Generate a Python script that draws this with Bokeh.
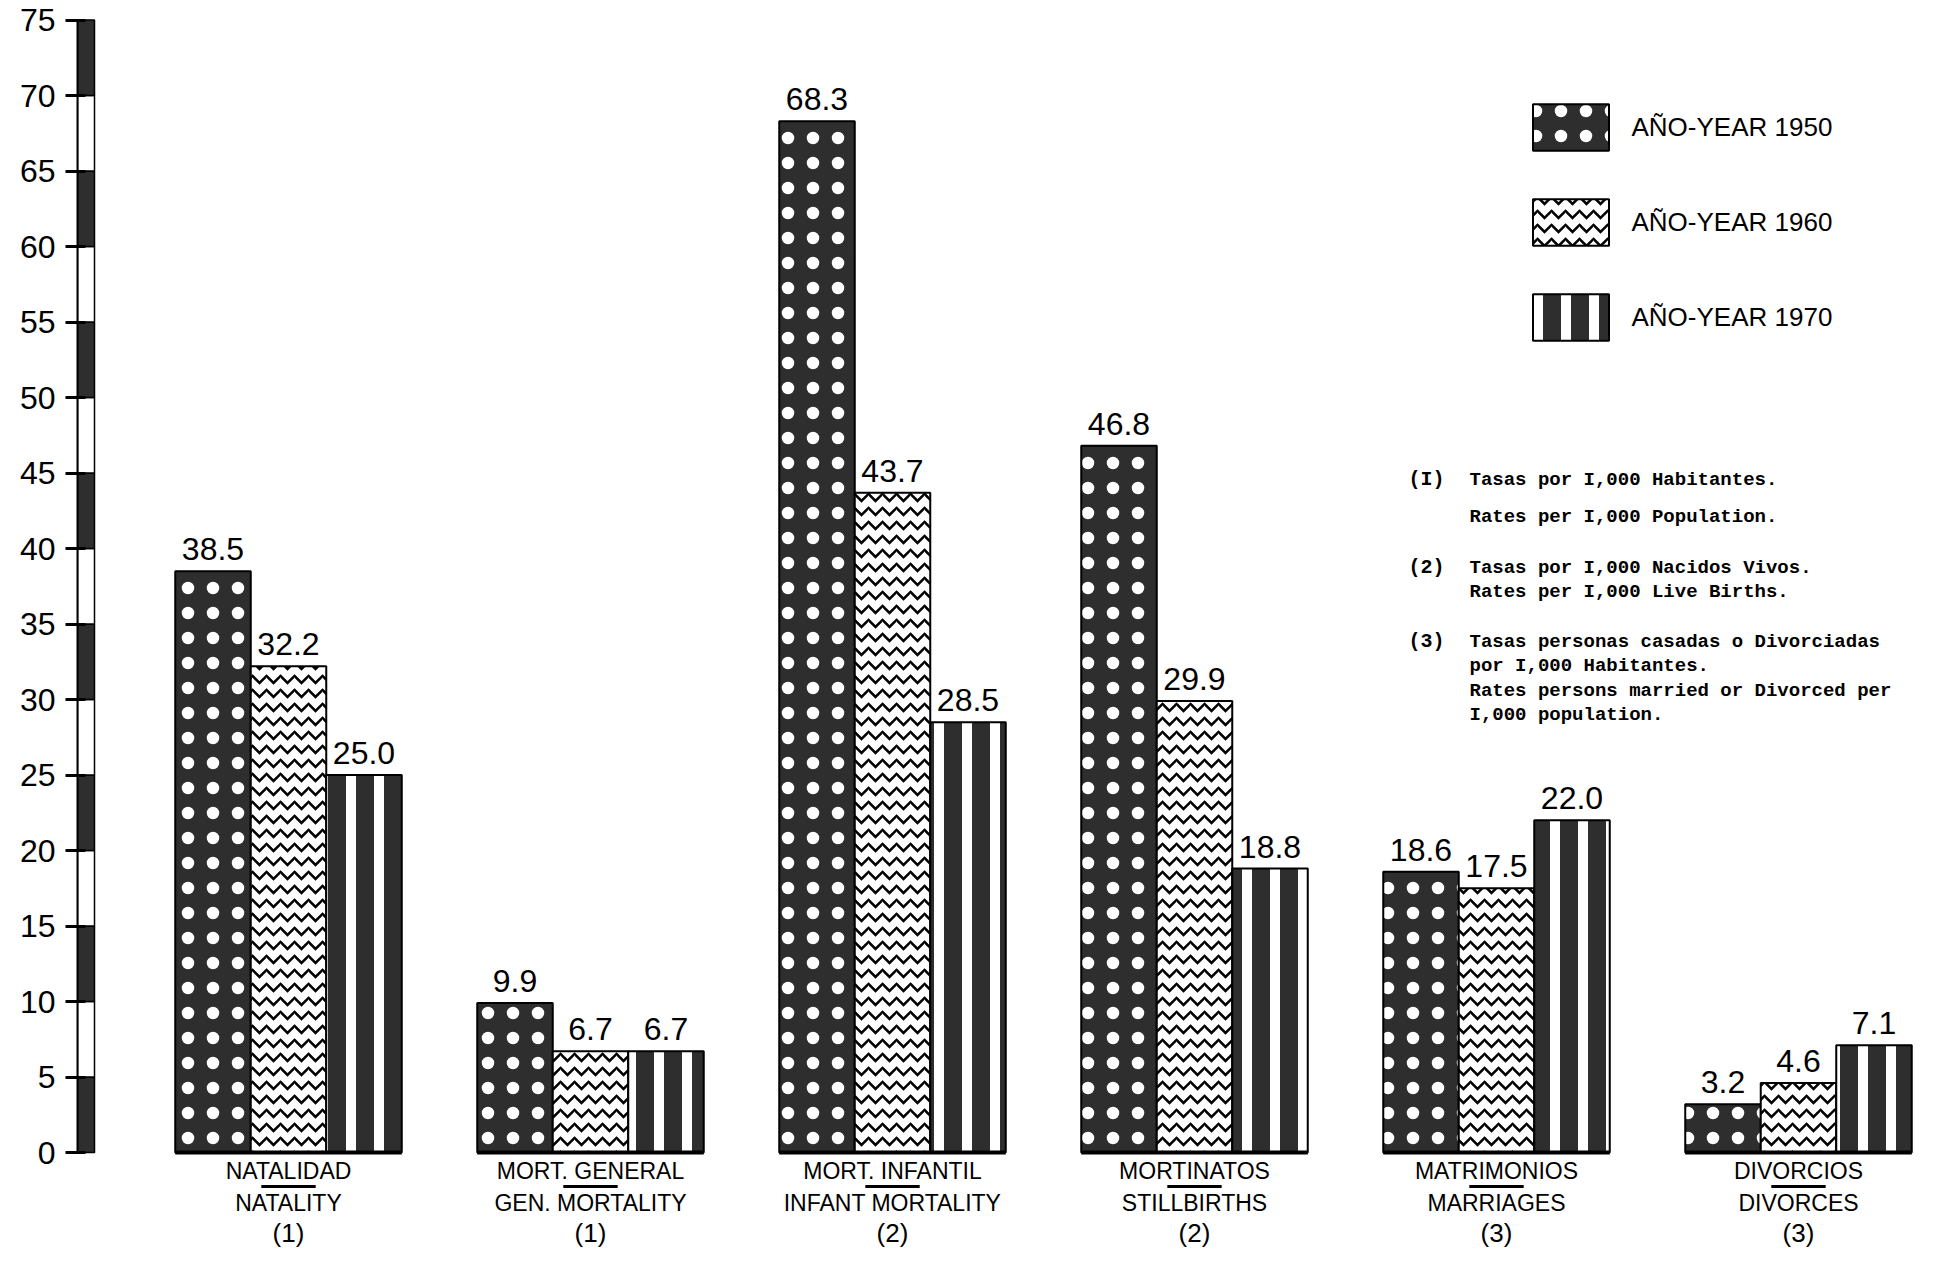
from bokeh.plotting import figure
from bokeh.models import Range1d, FixedTicker, Legend, LegendItem, Label
from bokeh.embed import file_html
from bokeh.resources import INLINE
from bokeh.core.properties import value

# ---------------- data ----------------
categories_es = ["NATALIDAD", "MORT. GENERAL", "MORT. INFANTIL", "MORTINATOS", "MATRIMONIOS", "DIVORCIOS"]
categories_en = ["NATALITY", "GEN. MORTALITY", "INFANT MORTALITY", "STILLBIRTHS", "MARRIAGES", "DIVORCES"]
category_notes = ["(1)", "(1)", "(2)", "(2)", "(3)", "(3)"]
years = ["1950", "1960", "1970"]
rates_1950 = [38.5, 9.9, 68.3, 46.8, 18.6, 3.2]
rates_1960 = [32.2, 6.7, 43.7, 29.9, 17.5, 4.6]
rates_1970 = [25.0, 6.7, 28.5, 18.8, 22.0, 7.1]
y_ticks = list(range(0, 80, 5))
footnotes = [
    ("(I)", ["Tasas por I,000 Habitantes.", "Rates per I,000 Population."]),
    ("(2)", ["Tasas por I,000 Nacidos Vivos.", "Rates per I,000 Live Births."]),
    ("(3)", ["Tasas personas casadas o Divorciadas", "por I,000 Habitantes.",
             "Rates persons married or Divorced per", "I,000 population."]),
]

# ---------------- layout ----------------
W, H = 1920, 1252
BL = 77
PPX = 302.0
X0 = (8 + BL - 296) / PPX
X1 = X0 + (W - BL) / PPX
PPY = 15.1
ZERO_PAGE = 1160
Y1 = (ZERO_PAGE - 8) / PPY
Y0 = -(8 + H - ZERO_PAGE) / PPY
FONT = "Liberation Sans"
MONO = "Liberation Mono"
DARK = "#2e2e2e"


def sx(page_x):
    return page_x - 8 - BL


def sy(page_y):
    return 8 + H - page_y


p = figure(width=W, height=H, output_backend="svg", toolbar_location=None,
           x_range=Range1d(X0, X1), y_range=Range1d(Y0, Y1),
           x_axis_location=None, y_axis_location="left",
           min_border=0, min_border_left=BL)
p.outline_line_color = None
p.xgrid.visible = False
p.ygrid.visible = False
p.background_fill_color = "white"

ax = p.yaxis[0]
ax.ticker = FixedTicker(ticks=y_ticks)
ax.bounds = (0, 75)
ax.minor_tick_line_color = None
ax.major_tick_out = 12
ax.major_tick_in = 8
ax.major_tick_line_width = 3
ax.axis_line_width = 2
ax.major_label_text_font = FONT
ax.major_label_text_font_size = "32px"
ax.major_label_text_color = "black"
ax.major_label_standoff = 10

# striped axis bar
bar_w = 17 / PPX
lows = y_ticks[:-1]
highs = y_ticks[1:]
p.quad(left=[X0] * len(lows), right=[X0 + bar_w] * len(lows), bottom=lows, top=highs,
       fill_color=[DARK if k % 2 == 0 else "white" for k in range(len(lows))],
       line_color="black", line_width=1.5)

# bars
n = len(categories_es)
bw = 0.25
styles = [
    dict(fill_color=DARK, hatch_pattern="dot", hatch_color="white", hatch_scale=25, hatch_weight=1),
    dict(fill_color="white", hatch_pattern="horizontal_wave", hatch_color="black", hatch_scale=14, hatch_weight=2.5),
    dict(fill_color=DARK, hatch_pattern="vertical_line", hatch_color="white", hatch_scale=28, hatch_weight=10),
]
series = [rates_1950, rates_1960, rates_1970]
renderers = []
for j, (vals, st) in enumerate(zip(series, styles)):
    xs = [i + (j - 1) * bw for i in range(n)]
    r = p.vbar(x=xs, top=vals, bottom=0, width=bw, line_color="black", line_width=2, **st)
    renderers.append(r)
    p.text(x=xs, y=vals, text=[f"{v:.1f}" for v in vals], text_align="center",
           text_baseline="bottom", y_offset=-11, text_font=value(FONT),
           text_font_size="32px", text_color="black")

# group baselines
centers = list(range(n))
p.segment(x0=[c - 1.5 * bw for c in centers], x1=[c + 1.5 * bw for c in centers],
          y0=[0] * n, y1=[0] * n, line_color="black", line_width=4)

# category labels
y_line1 = -(1178 - ZERO_PAGE) / PPY
y_under = -(1194 - ZERO_PAGE) / PPY
y_line2 = -(1210 - ZERO_PAGE) / PPY
y_line3 = -(1240 - ZERO_PAGE) / PPY
p.text(x=centers, y=[y_line1] * n, text=categories_es, text_align="center", text_baseline="middle",
       text_font=value(FONT), text_font_size="23px", text_color="black")
p.segment(x0=[c - 0.09 for c in centers], x1=[c + 0.09 for c in centers],
          y0=[y_under] * n, y1=[y_under] * n, line_color="black", line_width=3)
p.text(x=centers, y=[y_line2] * n, text=categories_en, text_align="center", text_baseline="middle",
       text_font=value(FONT), text_font_size="23px", text_color="black")
p.text(x=centers, y=[y_line3] * n, text=category_notes, text_align="center", text_baseline="middle",
       text_font=value(FONT), text_font_size="26px", text_color="black")

# legend (area legend glyphs are drawn inset by 10% on each side)
GW, GH = 95, 58
legend_top = 112 - 0.1 * GH
legend_h = 3 * GH + 2 * 37
items = [LegendItem(label=f"AÑO-YEAR {y}", renderers=[r]) for y, r in zip(years, renderers)]
legend = Legend(items=items, location=(sx(1540 - 0.1 * GW), sy(legend_top + legend_h)),
                glyph_width=GW, glyph_height=GH, spacing=37, padding=0, margin=0,
                border_line_color=None, background_fill_alpha=0, label_text_font=FONT,
                label_text_font_size="26px", label_standoff=14, label_text_color="black")
p.add_layout(legend)

# footnotes
note_y = [487, 575, 649]
line_gap = [37, 24, 24.5]
for (mark, lines), y0, gap in zip(footnotes, note_y, line_gap):
    p.add_layout(Label(x=sx(1416), y=sy(y0), x_units="screen", y_units="screen", text=mark,
                       text_font=MONO, text_font_style="bold", text_font_size="20px",
                       text_baseline="middle", text_color="black"))
    for k, line in enumerate(lines):
        p.add_layout(Label(x=sx(1477), y=sy(y0 + k * gap), x_units="screen", y_units="screen",
                           text=line, text_font=MONO, text_font_style="bold",
                           text_font_size="19px", text_baseline="middle", text_color="black"))

open("out.html", "w").write(file_html(p, INLINE))
